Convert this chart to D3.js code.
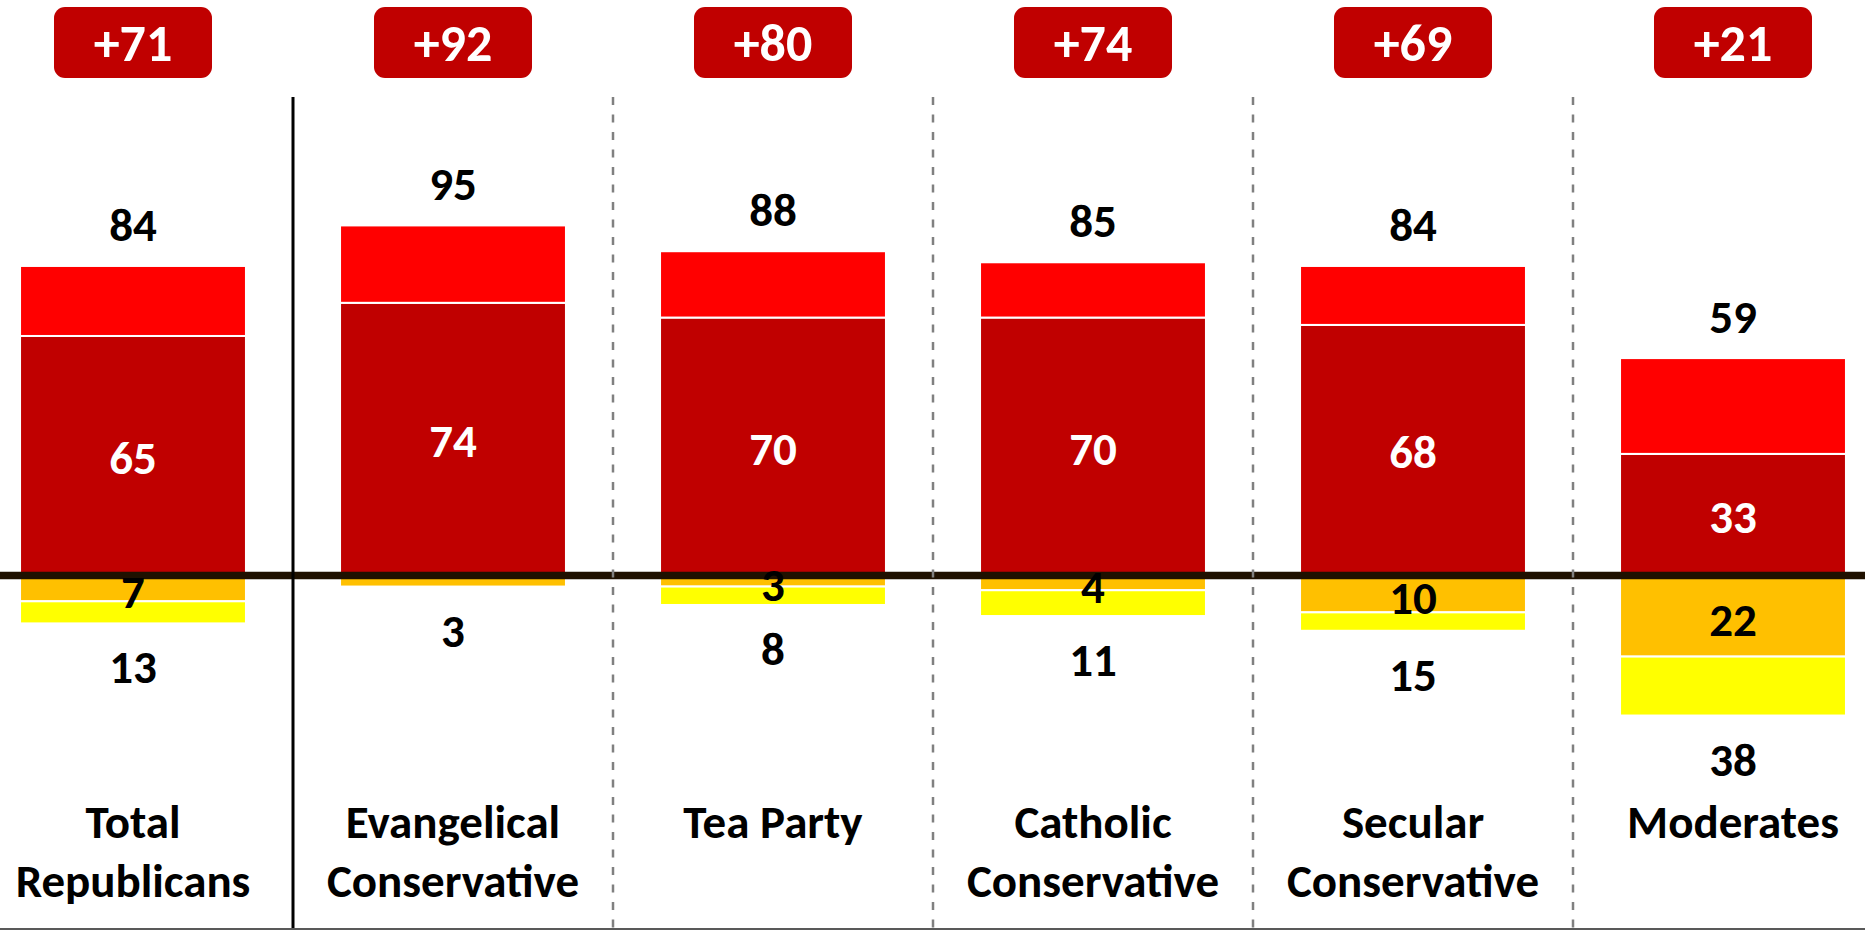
<!DOCTYPE html>
<html lang="en">
<head>
    <meta charset="UTF-8">
    <title>Republican groups - favorability</title>
    <style>
    body {
        margin: 0;
        background: #ffffff;
        font-family: "Carlito", "Lato", sans-serif;
    }
    svg {
        display: block;
    }
    .badge {
        fill: #c00000;
    }
    .badge-text {
        fill: #ffffff;
        font-size: 52px;
        font-weight: bold;
        text-anchor: middle;
    }
    .value {
        font-size: 47px;
        font-weight: bold;
        text-anchor: middle;
    }
    .cat {
        font-size: 47px;
        font-weight: bold;
        text-anchor: middle;
        fill: #000000;
    }
    .zero {
        stroke: #1f1100;
        stroke-width: 7.5px;
    }
    .sep-solid {
        stroke: #000000;
        stroke-width: 3px;
    }
    .sep-dash {
        stroke: #808080;
        stroke-width: 2.5px;
        stroke-dasharray: 8, 9.5;
    }
    </style>
</head>
<body>
    <div id="chart"></div>
    <script src="https://d3js.org/d3.v7.min.js"></script>
    <script>
        var width = 1865;
        var height = 930;

        var categories = ["Total Republicans", "Evangelical Conservative", "Tea Party", "Catholic Conservative", "Secular Conservative", "Moderates"];
        var catLines = [["Total", "Republicans"], ["Evangelical", "Conservative"], ["Tea Party"], ["Catholic", "Conservative"], ["Secular", "Conservative"], ["Moderates"]];
        var strongFav = [65, 74, 70, 70, 68, 33];
        var totalFav = [84, 95, 88, 85, 84, 59];
        var strongUnfav = [7, 3, 3, 4, 10, 22];
        var totalUnfav = [13, 3, 8, 11, 15, 38];
        var netLabels = ["+71", "+92", "+80", "+74", "+69", "+21"];

        var colors = {strongFav: "#c00000", fav: "#ff0000", strongUnfav: "#ffc000", unfav: "#ffff00"};

        var svg = d3.select("#chart").append("svg")
                    .attr("width", width)
                    .attr("height", height);

        var x = d3.scaleBand()
                  .domain(categories)
                  .range([-27, 1893])
                  .paddingInner(0.294)
                  .paddingOuter(0.147);

        var y = d3.scaleLinear()
                  .domain([-100, 100])
                  .range([575.5 + 368.5, 575.5 - 368.5]);

        var data = categories.map(function(c, i) {
            return {
                cat: c,
                lines: catLines[i],
                sf: strongFav[i],
                tf: totalFav[i],
                su: strongUnfav[i],
                tu: totalUnfav[i],
                net: netLabels[i]
            };
        });

        var bw = x.bandwidth();
        var step = x.step();

        // stacked segments
        var segs = [];
        data.forEach(function(d) {
            segs.push({cat: d.cat, y0: 0, y1: d.sf, color: colors.strongFav});
            segs.push({cat: d.cat, y0: d.sf, y1: d.tf, color: colors.fav});
            segs.push({cat: d.cat, y0: 0, y1: -d.su, color: colors.strongUnfav});
            segs.push({cat: d.cat, y0: -d.su, y1: -d.tu, color: colors.unfav});
        });

        svg.append("g").selectAll("rect")
            .data(segs.filter(function(s) { return s.y0 != s.y1; }))
            .enter().append("rect")
            .attr("x", function(s) { return x(s.cat); })
            .attr("width", bw)
            .attr("y", function(s) { return y(Math.max(s.y0, s.y1)); })
            .attr("height", function(s) { return Math.abs(y(s.y0) - y(s.y1)); })
            .style("fill", function(s) { return s.color; })
            .style("stroke", "#ffffff")
            .style("stroke-width", 2);

        // zero line
        svg.append("line")
            .attr("class", "zero")
            .attr("x1", 0)
            .attr("x2", width)
            .attr("y1", y(0))
            .attr("y2", y(0));

        // separators between groups
        svg.append("g").selectAll("line")
            .data(categories.slice(1))
            .enter().append("line")
            .attr("class", function(c, i) { return i == 0 ? "sep-solid" : "sep-dash"; })
            .attr("x1", function(c) { return x(c) - step * x.paddingInner() / 2; })
            .attr("x2", function(c) { return x(c) - step * x.paddingInner() / 2; })
            .attr("y1", 97)
            .attr("y2", height);

        // bottom border
        svg.append("line")
            .attr("x1", 0)
            .attr("x2", width)
            .attr("y1", 929)
            .attr("y2", 929)
            .style("stroke", "#595959")
            .style("stroke-width", 2);

        // net badges
        var badge = svg.append("g").selectAll("g")
            .data(data)
            .enter().append("g");

        badge.append("rect")
            .attr("class", "badge")
            .attr("x", function(d) { return x(d.cat) + bw / 2 - 79; })
            .attr("y", 7)
            .attr("width", 158)
            .attr("height", 71)
            .attr("rx", 11);

        badge.append("text")
            .attr("class", "badge-text")
            .attr("x", function(d) { return x(d.cat) + bw / 2; })
            .attr("y", 61)
            .text(function(d) { return d.net; });

        var labels = svg.append("g");

        // totals above / below
        labels.selectAll("text.top")
            .data(data)
            .enter().append("text")
            .attr("class", "value top")
            .attr("x", function(d) { return x(d.cat) + bw / 2; })
            .attr("y", function(d) { return y(d.tf) - 25; })
            .text(function(d) { return d.tf; });

        labels.selectAll("text.bottom")
            .data(data)
            .enter().append("text")
            .attr("class", "value bottom")
            .attr("x", function(d) { return x(d.cat) + bw / 2; })
            .attr("y", function(d) { return y(-d.tu) + 60; })
            .text(function(d) { return d.tu; });

        // inner labels
        labels.selectAll("text.inner-fav")
            .data(data)
            .enter().append("text")
            .attr("class", "value inner-fav")
            .attr("x", function(d) { return x(d.cat) + bw / 2; })
            .attr("y", function(d) { return (y(0) + y(d.sf)) / 2 + 18; })
            .style("fill", "#ffffff")
            .text(function(d) { return d.sf; });

        labels.selectAll("text.inner-unfav")
            .data(data.filter(function(d) { return d.su < d.tu; }))
            .enter().append("text")
            .attr("class", "value inner-unfav")
            .attr("x", function(d) { return x(d.cat) + bw / 2; })
            .attr("y", function(d) { return (y(0) + y(-d.su)) / 2 + 20; })
            .style("fill", "#000000")
            .text(function(d) { return d.su; });

        // category labels
        var cat = labels.selectAll("text.cat")
            .data(data)
            .enter().append("text")
            .attr("class", "cat")
            .attr("x", function(d) { return x(d.cat) + bw / 2; })
            .attr("y", 838);

        cat.selectAll("tspan")
            .data(function(d) { return d.lines.map(function(l) { return {line: l, x: x(d.cat) + bw / 2}; }); })
            .enter().append("tspan")
            .attr("x", function(l) { return l.x; })
            .attr("dy", function(l, i) { return i == 0 ? 0 : 59; })
            .text(function(l) { return l.line; });
    </script>
</body>
</html>
